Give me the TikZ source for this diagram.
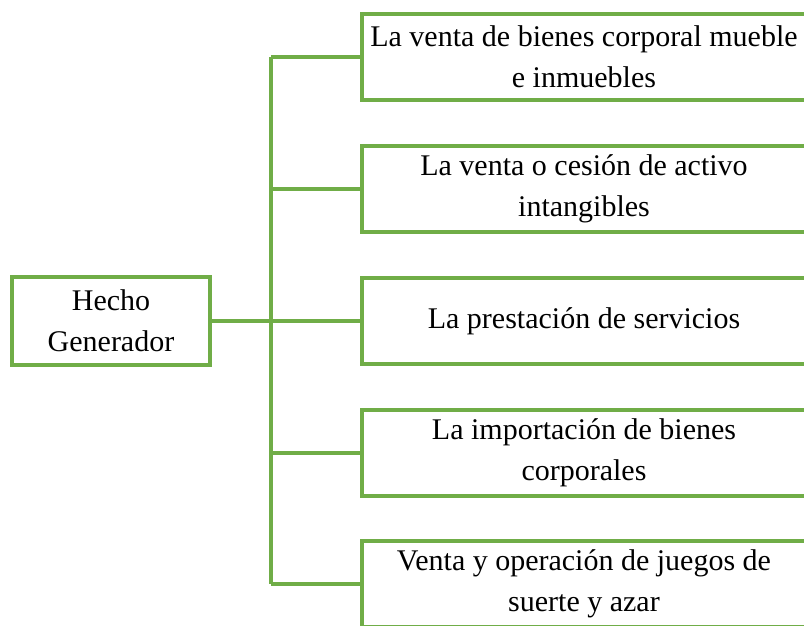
\documentclass[tikz,border=0pt]{standalone}
\usepackage{fontspec}
\setmainfont{Liberation Serif}
\definecolor{boxgreen}{HTML}{70AD47}
\tikzset{
  x=1pt, y=1pt,
  frame/.style={draw=boxgreen, line width=3.5pt, fill=white, align=center, inner sep=0pt,
    font=\fontsize{30}{41}\selectfont},
  leftbox/.style={frame, minimum width=198pt, minimum height=88pt},
  rightbox/.style={frame, minimum width=444pt, minimum height=86pt},
  link/.style={draw=boxgreen, line width=3.5pt}
}
\begin{document}
\begin{tikzpicture}
\useasboundingbox (0,0) rectangle (804,-625);
\clip (0,0) rectangle (804,-625);
\node[leftbox] (hg) at (111,-321) {Hecho\\Generador};
\node[rightbox] (b1) at (584,-57) {La venta de bienes corporal mueble\\e inmuebles};
\node[rightbox] (b2) at (584,-189) {La venta o cesión de activo\\intangibles};
\node[rightbox] (b3) at (584,-321) {La prestación de servicios};
\node[rightbox] (b4) at (584,-453) {La importación de bienes\\corporales};
\node[rightbox] (b5) at (584,-584) {Venta y operación de juegos de\\suerte y azar};
\coordinate (trunk) at (271,0);
\draw[link] (b1.west -| trunk) -- (b5.west -| trunk);
\draw[link] (hg.east) -- (b3.west);
\foreach \b in {b1,b2,b4,b5} {
  \draw[link] (\b.west -| trunk) -- (\b.west);
}
\end{tikzpicture}
\end{document}
